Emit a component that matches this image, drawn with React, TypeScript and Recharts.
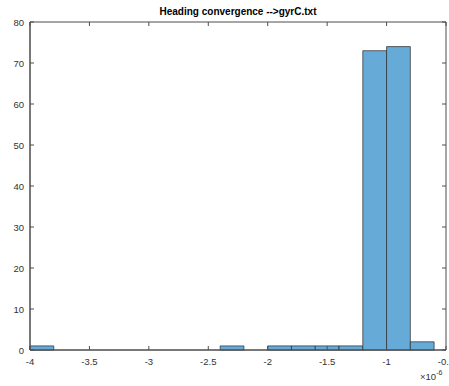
import React from 'react';
import { ComposedChart, XAxis, YAxis, ReferenceArea } from 'recharts';

const binLeft = [-4.0, -2.4, -2.0, -1.8, -1.6, -1.4, -1.2, -1.0, -0.8];
const binRight = [-3.8, -2.2, -1.8, -1.6, -1.4, -1.2, -1.0, -0.8, -0.6];
const counts = [1, 1, 1, 1, 1, 1, 73, 74, 2];
const xTicks = [-4, -3.5, -3, -2.5, -2, -1.5, -1, -0.5];
const yTicks = [0, 10, 20, 30, 40, 50, 60, 70, 80];
const title = 'Heading convergence -->gyrC.txt';

const data = binLeft.map((l, i) => ({ x: (l + binRight[i]) / 2, count: counts[i] }));

const W = 449;
const H = 386;
const M = { top: 22, right: 3, bottom: 0, left: 0 };
const X_AXIS_H = 36;
const Y_AXIS_W = 30;
const PLOT_W = W - M.left - M.right - Y_AXIS_W;
const PLOT_H = H - M.top - M.bottom - X_AXIS_H;

const AX = '#4d4d4d';
const TXT = '#333333';
const FONT = '"Liberation Sans", Arial, Helvetica, sans-serif';

const BottomTick = (p: any) => (
  <g>
    <line x1={p.x} x2={p.x} y1={p.y} y2={p.y - 4} stroke={AX} strokeWidth={1} />
    <line x1={p.x} x2={p.x} y1={p.y - PLOT_H} y2={p.y - PLOT_H + 4} stroke={AX} strokeWidth={1} />
    <text x={p.x} y={p.y + 15} textAnchor="middle" fontSize={9.5} fill={TXT} fontFamily={FONT}>
      {String(p.payload.value)}
    </text>
  </g>
);
const LeftTick = (p: any) => (
  <g>
    <line x1={p.x} x2={p.x + 4} y1={p.y} y2={p.y} stroke={AX} strokeWidth={1} />
    <line x1={p.x + PLOT_W} x2={p.x + PLOT_W - 4} y1={p.y} y2={p.y} stroke={AX} strokeWidth={1} />
    <text x={p.x - 6} y={p.y + 3.5} textAnchor="end" fontSize={9.5} fill={TXT} fontFamily={FONT}>
      {String(p.payload.value)}
    </text>
  </g>
);

export default function App() {
  return (
    <div style={{ position: 'absolute', left: 0, top: 0, width: W, height: H, background: '#fff' }}>
      <div
        style={{
          position: 'absolute', left: 30, width: 416, top: 6, textAlign: 'center',
          fontFamily: FONT, fontWeight: 'bold', fontSize: 10, color: '#000', lineHeight: '12px',
        }}
      >
        {title}
      </div>
      <div
        style={{
          position: 'absolute', left: 420, top: 371, fontFamily: FONT, fontSize: 9.5,
          color: TXT, lineHeight: '12px', whiteSpace: 'nowrap',
        }}
      >
        ×10<sup style={{ fontSize: 7, verticalAlign: 'top', position: 'relative', top: -4 }}>-6</sup>
      </div>
      <ComposedChart
        width={W}
        height={H}
        data={data}
        margin={M}
        style={{ position: 'absolute', left: 0, top: 0 }}
      >
        <XAxis
          dataKey="x"
          type="number"
          domain={[-4, -0.5]}
          ticks={xTicks}
          allowDataOverflow
          height={X_AXIS_H}
          tickSize={0}
          tickMargin={0}
          tick={BottomTick}
          axisLine={{ stroke: AX, strokeWidth: 1 }}
          tickLine={false}
          interval={0}
        />
        <YAxis
          type="number"
          domain={[0, 80]}
          ticks={yTicks}
          allowDataOverflow
          width={Y_AXIS_W}
          tickSize={0}
          tickMargin={0}
          tick={LeftTick}
          axisLine={{ stroke: AX, strokeWidth: 1 }}
          tickLine={false}
          interval={0}
        />
        <ReferenceArea
          x1={-4}
          x2={-0.5}
          y1={0}
          y2={80}
          fill="none"
          fillOpacity={0}
          stroke={AX}
          strokeWidth={1}
          strokeOpacity={1}
          ifOverflow="visible"
        />
        {binLeft.map((l, i) => (
          <ReferenceArea
            key={i}
            x1={l}
            x2={binRight[i]}
            y1={0}
            y2={counts[i]}
            fill="#66aad7"
            fillOpacity={1}
            stroke="#2b2b2b"
            strokeWidth={0.7}
            strokeOpacity={1}
            ifOverflow="visible"
          />
        ))}
      </ComposedChart>
    </div>
  );
}
